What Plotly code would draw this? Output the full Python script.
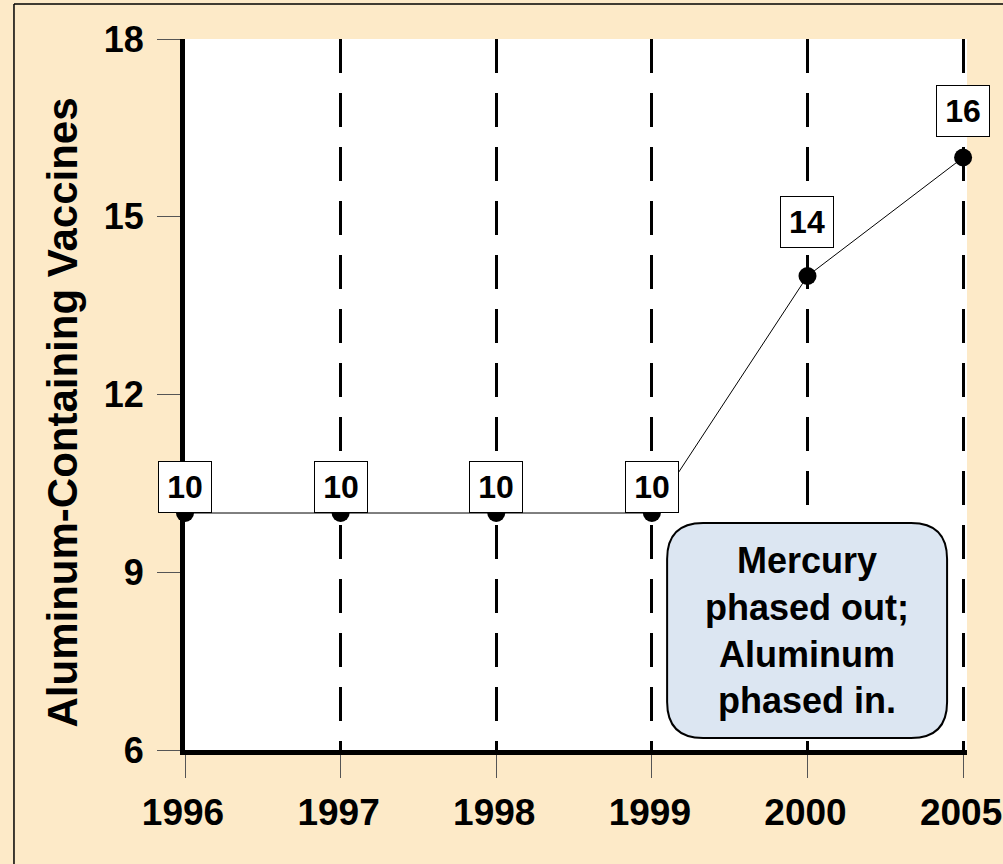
import plotly.graph_objects as go

years = ["1996", "1997", "1998", "1999", "2000", "2005"]
vaccines = [10, 10, 10, 10, 14, 16]
y_ticks = [6, 9, 12, 15, 18]
y_title = "Aluminum-Containing Vaccines"
note_text = "Mercury<br>phased out;<br>Aluminum<br>phased in."

# styling
label_shift = [26, 26, 26, 26, 54, 47]
FONT = "Liberation Sans, Arial, Helvetica, sans-serif"
BEIGE = "#FDEAC8"

xs = list(range(len(years)))

fig = go.Figure()
fig.add_trace(go.Scatter(
    x=xs, y=vaccines, mode="lines+markers",
    line=dict(color="black", width=1),
    marker=dict(color="black", size=18),
    cliponaxis=False, showlegend=False, hoverinfo="skip"))

for xi, v, s in zip(xs, vaccines, label_shift):
    fig.add_annotation(x=xi, y=v, text=str(v), showarrow=False, yshift=s,
                       bgcolor="white", bordercolor="black", borderwidth=1,
                       borderpad=0, width=52, height=50,
                       font=dict(family=FONT, size=32, color="black", weight="bold"))

# rounded note box (data coordinates)
px_x = 155.6
px_y = 59.25
x0, x1 = 3.098, 4.897
y0, y1 = 6.203, 9.831
r = 36
rx, ry = r / px_x, r / px_y
path = (f"M {x0+rx},{y1} L {x1-rx},{y1} Q {x1},{y1} {x1},{y1-ry} "
        f"L {x1},{y0+ry} Q {x1},{y0} {x1-rx},{y0} L {x0+rx},{y0} "
        f"Q {x0},{y0} {x0},{y0+ry} L {x0},{y1-ry} Q {x0},{y1} {x0+rx},{y1} Z")
fig.add_shape(type="path", path=path, xref="x", yref="y",
              fillcolor="#DCE6F2", line=dict(color="black", width=2), layer="above")
fig.add_annotation(x=(x0 + x1) / 2, y=(y0 + y1) / 2, text=note_text, showarrow=False,
                   font=dict(family=FONT, size=36, color="black", weight="bold"),
                   align="center")

# y title
fig.add_annotation(xref="paper", yref="paper", x=-0.157, y=0.475, text=y_title,
                   xanchor="center", yanchor="middle",
                   textangle=-90, showarrow=False,
                   font=dict(family=FONT, size=42, color="black", weight="bold"))

# outer border lines (top and left)
fig.add_shape(type="line", xref="paper", yref="paper", x0=-0.2187, x1=1.1, y0=1.0492, y1=1.0492,
              line=dict(color="black", width=1.5))
fig.add_shape(type="line", xref="paper", yref="paper", x0=-0.2187, x1=-0.2187, y0=-0.3, y1=1.0492,
              line=dict(color="black", width=1.5))

fig.update_xaxes(
    range=[0, 5.025], tickmode="array", tickvals=xs, ticktext=years,
    showgrid=True, gridcolor="black", gridwidth=3, griddash="34px,20px",
    showline=True, linecolor="black", linewidth=5,
    ticks="outside", ticklen=23, tickcolor="#555555", tickwidth=1,
    ticklabeloverflow="allow", ticklabelstandoff=3, ticklabelshift=-2, automargin=False,
    tickfont=dict(family=FONT, size=37, color="black", weight="bold"),
    zeroline=False, fixedrange=True)
fig.update_yaxes(
    range=[6, 18], tickmode="array", tickvals=y_ticks,
    showgrid=False, showline=True, linecolor="black", linewidth=5,
    ticks="outside", ticklen=23, tickcolor="#555555", tickwidth=1,
    ticklabeloverflow="allow", ticklabelstandoff=6, automargin=False,
    tickfont=dict(family=FONT, size=36, color="black", weight="bold"),
    zeroline=False, fixedrange=True)

fig.update_layout(
    width=1003, height=864,
    margin=dict(l=185, r=36, t=39, b=114),
    paper_bgcolor=BEIGE, plot_bgcolor="white",
    showlegend=False)

fig.write_html("out.html", config={"displayModeBar": False},
               post_script="document.body.style.margin='0';")
